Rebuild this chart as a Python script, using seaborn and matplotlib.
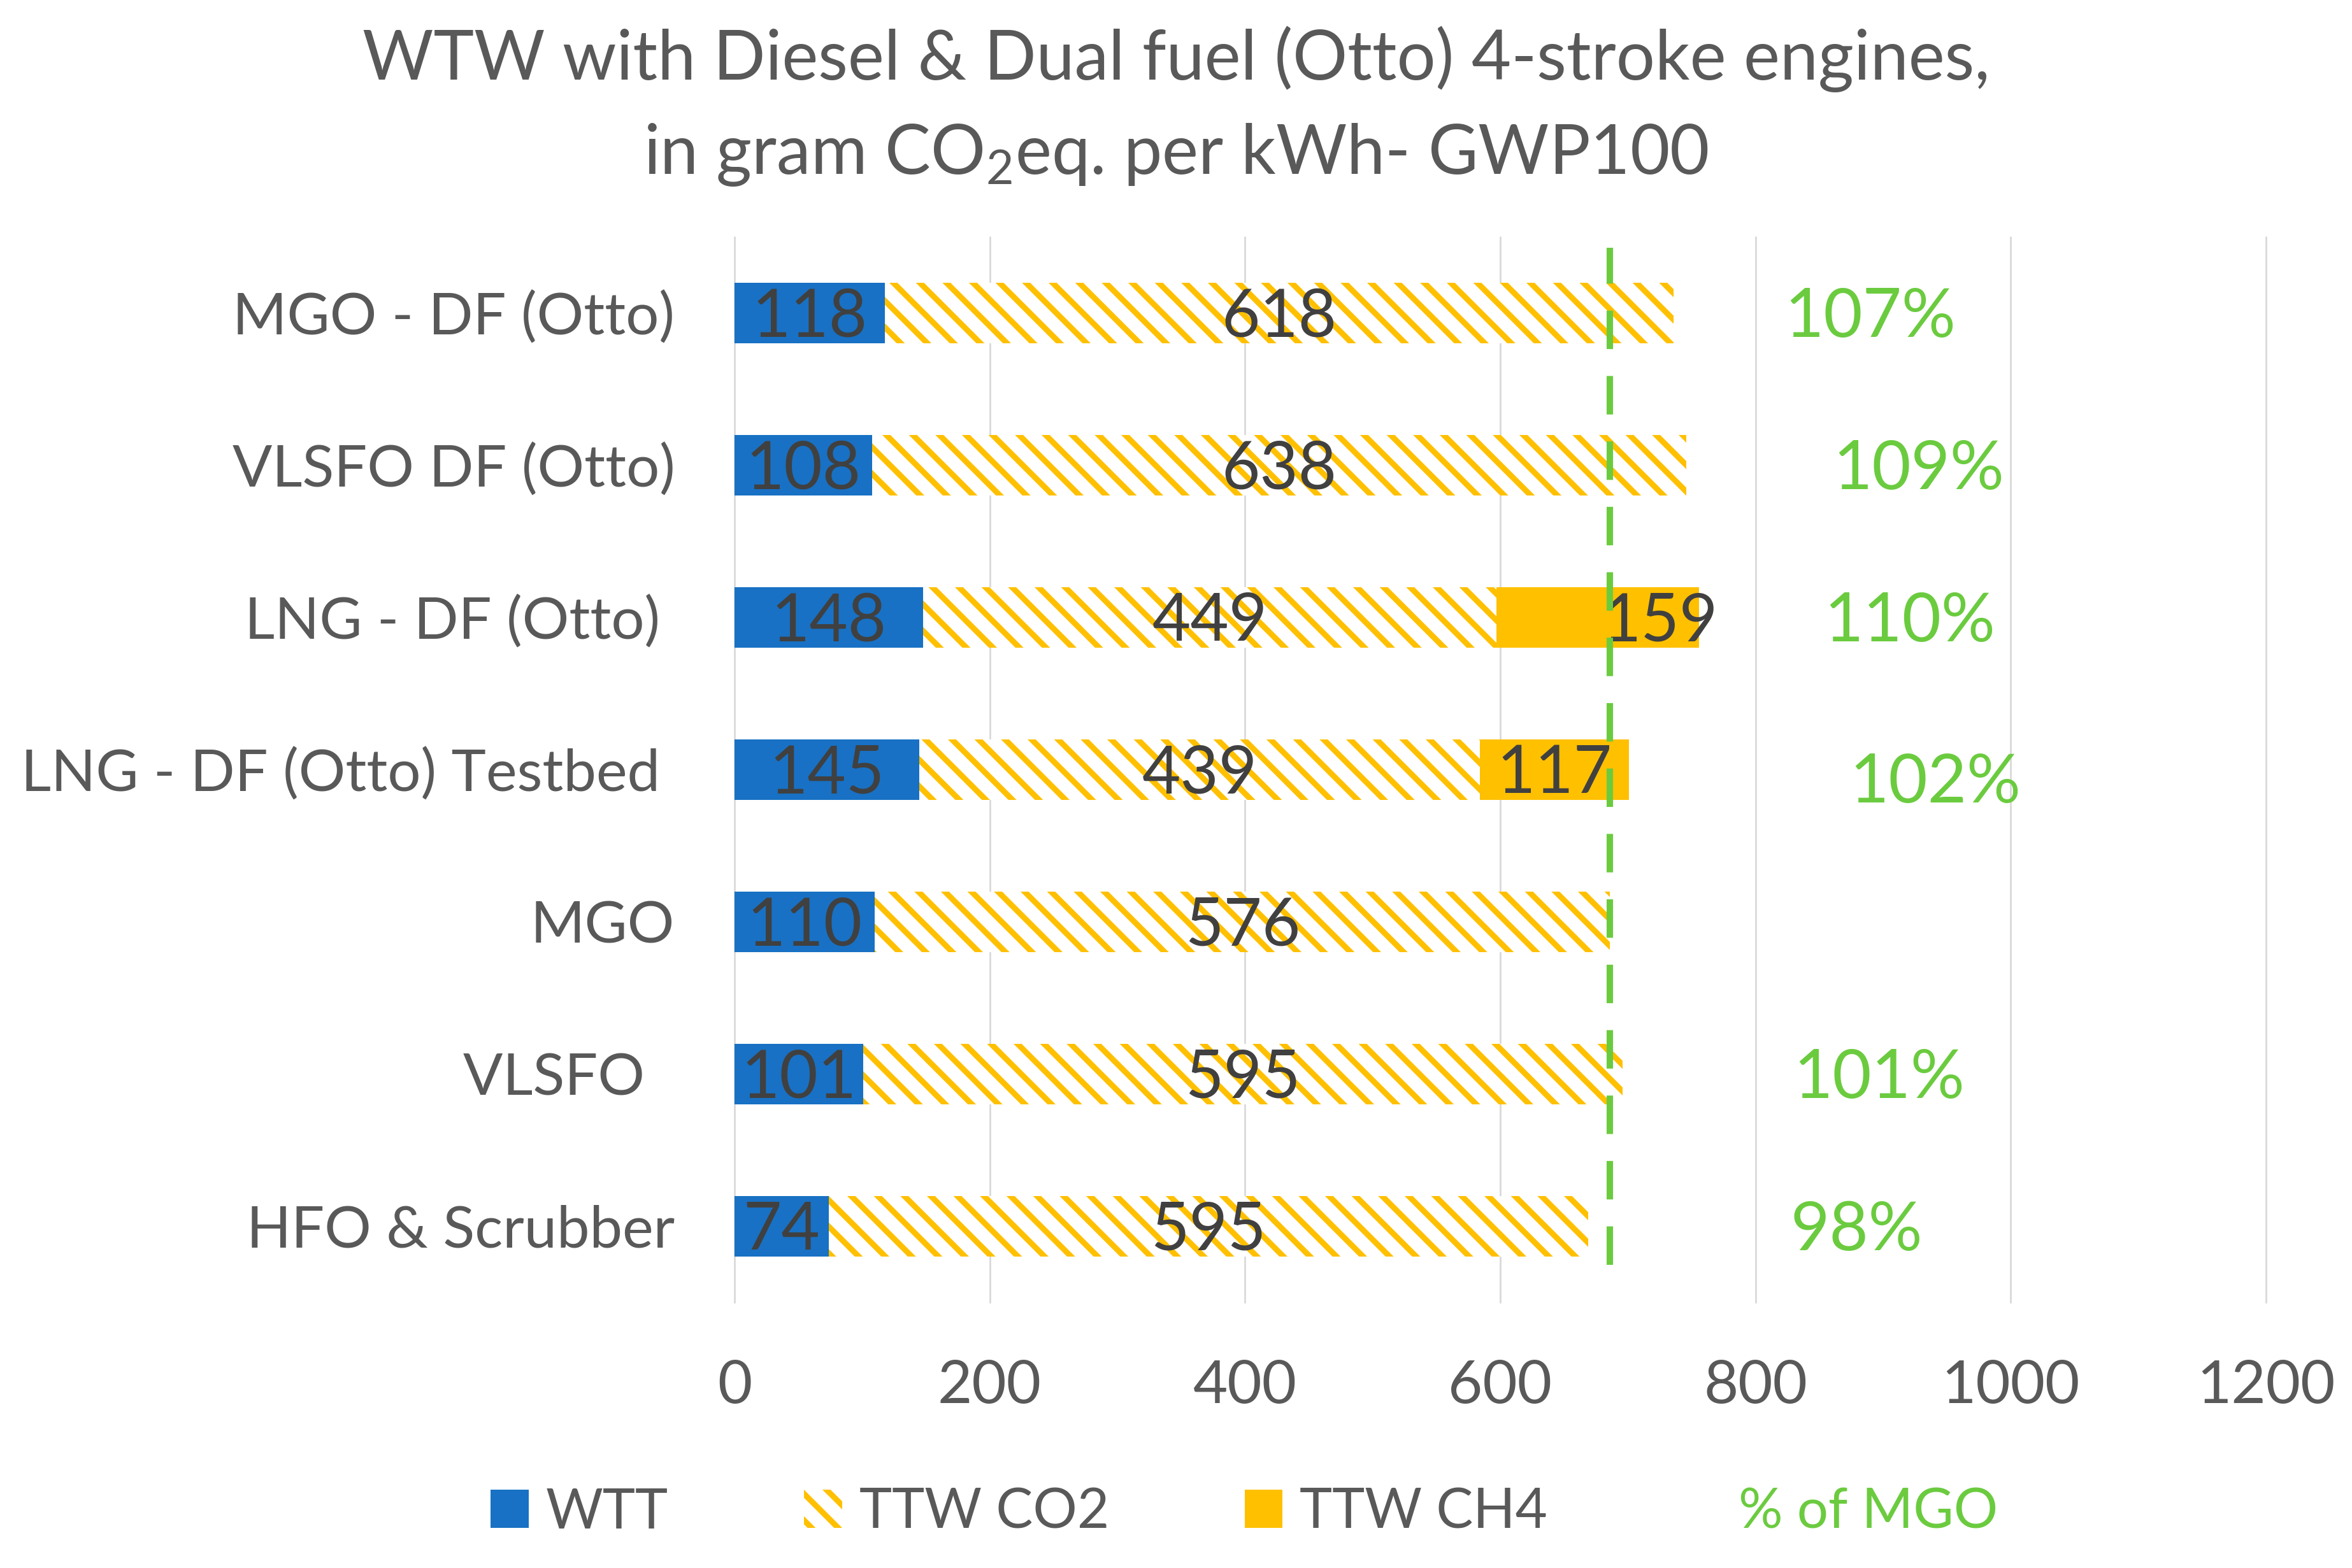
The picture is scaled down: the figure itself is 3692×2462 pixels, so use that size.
import seaborn as sns
import matplotlib.pyplot as plt
import pandas as pd
from matplotlib.patches import Patch

# --- Data ---
categories = ["MGO - DF (Otto)", "VLSFO DF (Otto)", "LNG - DF (Otto) ",
              "LNG - DF (Otto) Testbed ", "MGO", "VLSFO  ", "HFO & Scrubber"]
wtt = [118, 108, 148, 145, 110, 101, 74]
ttw_co2 = [618, 638, 449, 439, 576, 595, 595]
ttw_ch4 = [0, 0, 159, 117, 0, 0, 0]
pct_of_mgo = [107, 109, 110, 102, None, 101, 98]
x_ticks = [0, 200, 400, 600, 800, 1000, 1200]

# where the "% of MGO" labels sit on the x axis (placed by hand in the original)
pct_label_x = [890, 928, 921, 941, None, 897, 879]
pct_label_dy = [0, 0, 0, 0.06, 0, 0, 0]
# the 159 label was nudged right of its segment centre in the original
ch4_label_shift = [0, 0, 49, 0, 0, 0, 0]

# --- Style ---
BLUE = '#1871C4'
ORANGE = '#FFC000'
GREEN = '#6BCB3F'
GREY_TEXT = '#595959'
DARK_TEXT = '#404040'
GRID = '#D9D9D9'
DPI = 250
HATCH = '\\\\'
TEXT_DY = 0.03  # small downward nudge so digits sit centred in the bars

sns.set_theme(style="white")
plt.rcParams.update({
    'font.family': ['Lato', 'DejaVu Sans'],
    'mathtext.fontset': 'custom',
    'mathtext.rm': 'Lato',
    'mathtext.default': 'regular',
    'hatch.linewidth': 2.6,
    'text.color': GREY_TEXT,
})

df = pd.DataFrame({'fuel': categories, 'wtt': wtt, 'co2': ttw_co2, 'ch4': ttw_ch4})
df['wtt_co2'] = df['wtt'] + df['co2']
df['total'] = df['wtt_co2'] + df['ch4']

fig = plt.figure(figsize=(3692 / DPI, 2462 / DPI), dpi=DPI)
ax = fig.add_axes([0.3123, 0.1694, 0.9634 - 0.3123, 0.8489 - 0.1694])

# overlapping bars: total (CH4 colour), then WTT+CO2 hatched on white, then WTT on top
sns.barplot(data=df, x='total', y='fuel', color=ORANGE, saturation=1,
            width=0.4, errorbar=None, linewidth=0, ax=ax)
n0 = len(ax.patches)
sns.barplot(data=df, x='wtt_co2', y='fuel', color='white', saturation=1,
            width=0.4, errorbar=None, linewidth=0, ax=ax)
for p in ax.patches[n0:]:
    p.set_facecolor('white')
    p.set_edgecolor(ORANGE)
    p.set_hatch(HATCH)
    p.set_linewidth(0)
sns.barplot(data=df, x='wtt', y='fuel', color=BLUE, saturation=1,
            width=0.4, errorbar=None, linewidth=0, ax=ax)

# segment value labels
for i, row in df.iterrows():
    y = i + TEXT_DY
    ax.text(row['wtt'] / 2, y, f"{row['wtt']}", ha='center', va='center',
            fontsize=30, color=DARK_TEXT, zorder=5)
    ax.text(row['wtt'] + row['co2'] / 2, y, f"{row['co2']}", ha='center', va='center',
            fontsize=30, color=DARK_TEXT, zorder=5)
    if row['ch4'] > 0:
        ax.text(row['wtt_co2'] + row['ch4'] / 2 + ch4_label_shift[i], y, f"{row['ch4']}",
                ha='center', va='center', fontsize=30, color=DARK_TEXT, zorder=5)
    if pct_of_mgo[i] is not None:
        ax.text(pct_label_x[i], y + pct_label_dy[i], f"{pct_of_mgo[i]}%", ha='center',
                va='center', fontsize=30.5, color=GREEN, zorder=5)

# MGO reference line
mgo_ref = df.loc[df['fuel'] == 'MGO', 'wtt_co2'].iloc[0]
ax.axvline(mgo_ref, ymin=0.035, ymax=0.99, color=GREEN, lw=2.9,
           dashes=(6, 4.2), zorder=6)

ax.set_xlim(0, 1200)
ax.set_ylim(6.5, -0.5)
ax.set_xticks(x_ticks)
ax.set_xticklabels([str(t) for t in x_ticks])
ax.grid(axis='x', color=GRID, lw=0.8)
ax.set_axisbelow(True)
for line in ax.get_xgridlines():
    line.set_clip_on(False)
ax.set_xlabel('')
ax.set_ylabel('')
sns.despine(ax=ax, left=True, bottom=True)
ax.tick_params(axis='both', length=0, colors=GREY_TEXT)
ax.tick_params(axis='y', pad=27, labelsize=26.5)
ax.tick_params(axis='x', pad=26, labelsize=27)

# title
fig.text(0.5, 0.9492, "WTW with Diesel & Dual fuel (Otto) 4-stroke engines,",
         ha='center', va='baseline', fontsize=31, color=GREY_TEXT)
fig.text(0.5, 0.8891, "in gram CO$_2$eq. per kWh- GWP100",
         ha='center', va='baseline', fontsize=31, color=GREY_TEXT)

# legend
handles = [
    Patch(facecolor=BLUE, edgecolor='none', linewidth=0),
    Patch(facecolor='white', edgecolor=ORANGE, hatch=HATCH, linewidth=0),
    Patch(facecolor=ORANGE, edgecolor='none', linewidth=0),
    Patch(facecolor='none', edgecolor='none', linewidth=0),
]
labels = ['WTT', 'TTW CO2', 'TTW CH4', '% of MGO']
leg = fig.legend(handles, labels, loc='center', bbox_to_anchor=(0.529, 0.0353),
                 ncol=4, frameon=False, fontsize=25, handlelength=0.69,
                 handleheight=0.69, handletextpad=0.31, columnspacing=2.45)
for t in leg.get_texts():
    t.set_color(GREY_TEXT)
leg.get_texts()[-1].set_color(GREEN)

fig.savefig('out.png', dpi=DPI, facecolor='white')
